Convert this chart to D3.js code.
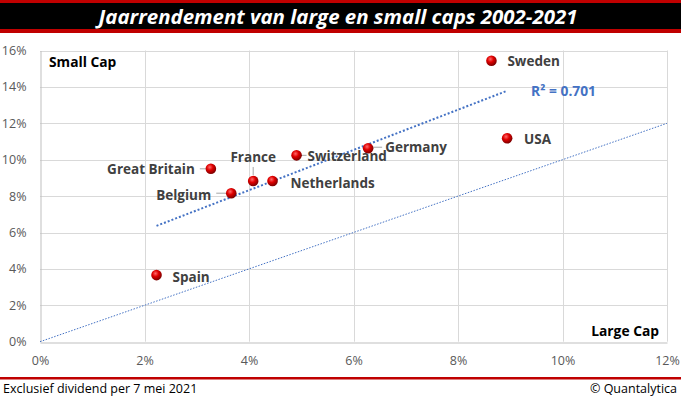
<!DOCTYPE html>
<html>
<head>
<meta charset="utf-8">
<script src="https://cdn.jsdelivr.net/npm/d3@7"></script>
<style>
  body { margin: 0; background: #fff; }
  svg { display: block; font-family: "Open Sans", sans-serif; }
</style>
</head>
<body>
<svg id="chart"></svg>
<script>
"use strict"

// data (large cap return, small cap return)
let countries = ["Great Britain", "Belgium", "France", "Netherlands", "Switzerland", "Germany", "Sweden", "USA", "Spain"]
let largeCap = [0.0327, 0.0366, 0.0408, 0.0445, 0.0491, 0.0628, 0.0864, 0.0894, 0.0223]
let smallCap = [0.0950, 0.0816, 0.0883, 0.0883, 0.1024, 0.1063, 0.1544, 0.1118, 0.0366]
let xTicks = [0, 0.02, 0.04, 0.06, 0.08, 0.10, 0.12]
let yTicks = [0, 0.02, 0.04, 0.06, 0.08, 0.10, 0.12, 0.14, 0.16]
let rSquaredLabel = "R² = 0.701"

// label placement (layout only)
let labelPos = {
  "Great Britain": {dx: -16, dy: 0, anchor: "end", lead: [-11, 0, -5, 0]},
  "Belgium": {dx: -20, dy: 2, anchor: "end", lead: [-15, 0, -5, 0]},
  "France": {dx: 0, dy: -24, anchor: "middle", lead: [0, -14, 0, -6]},
  "Netherlands": {dx: 18, dy: 2, anchor: "start"},
  "Switzerland": {dx: 11, dy: 1, anchor: "start", lead: [4, 0, 10, 0]},
  "Germany": {dx: 17, dy: -1, anchor: "start", lead: [5, -1, 14, -1]},
  "Sweden": {dx: 16, dy: 1, anchor: "start"},
  "USA": {dx: 17, dy: 1, anchor: "start"},
  "Spain": {dx: 16, dy: 2, anchor: "start"}
}

let width = 681, height = 399
let svg = d3.select("#chart").attr("width", width).attr("height", height)

let x = d3.scaleLinear().domain([0, 0.12]).range([40, 667])
let y = d3.scaleLinear().domain([0, 0.16]).range([341.7, 50.5])
let pct = d3.format(".0%")

/* title bar */
svg.append("rect").attr("x", 0).attr("y", 0).attr("width", width).attr("height", 33).attr("fill", "#c00000")
svg.append("rect").attr("x", 0).attr("y", 3).attr("width", width).attr("height", 26).attr("fill", "#000")
let title = svg.append("text")
  .attr("x", 338).attr("y", 24)
  .attr("text-anchor", "middle")
  .attr("fill", "#fff")
  .attr("font-weight", "bold")
  .attr("font-style", "italic")
  .attr("font-size", 20)
  .text("Jaarrendement van large en small caps 2002-2021")
let tw = title.node().getComputedTextLength()
title.attr("font-size", 20 * 479 / tw)

/* gridlines */
let grid = svg.append("g").attr("stroke", "#d9d9d9").attr("stroke-width", 1)
grid.selectAll(".gx").data(xTicks.slice(1)).enter().append("line")
  .attr("x1", d => Math.round(x(d)) + 0.5).attr("x2", d => Math.round(x(d)) + 0.5)
  .attr("y1", y(0.16)).attr("y2", y(0))
grid.selectAll(".gy").data(yTicks.slice(1)).enter().append("line")
  .attr("x1", x(0)).attr("x2", x(0.12))
  .attr("y1", d => Math.round(y(d)) + 0.5).attr("y2", d => Math.round(y(d)) + 0.5)

/* axes */
let xAxis = svg.append("g")
  .attr("transform", "translate(0," + (Math.round(y(0)) + 0.5) + ")")
  .call(d3.axisBottom(x).tickValues(xTicks).tickFormat(pct).tickSize(0).tickPadding(14))
xAxis.select(".domain").attr("stroke", "#bfbfbf")
let yAxis = svg.append("g")
  .attr("transform", "translate(" + (Math.round(x(0)) + 0.5) + ",0)")
  .call(d3.axisLeft(y).tickValues(yTicks).tickFormat(pct).tickSize(0).tickPadding(14))
yAxis.select(".domain").attr("stroke", "#bfbfbf")
svg.selectAll(".tick text")
  .attr("fill", "#595959")
  .attr("font-size", 12.5)
  .attr("font-family", "Open Sans, sans-serif")

/* axis titles */
svg.append("text").attr("x", 49).attr("y", 67)
  .attr("font-weight", "bold").attr("font-size", 13.8).attr("fill", "#000")
  .text("Small Cap")
svg.append("text").attr("x", 659).attr("y", 336)
  .attr("text-anchor", "end")
  .attr("font-weight", "bold").attr("font-size", 13.8).attr("fill", "#000")
  .text("Large Cap")

/* y = x reference line */
svg.append("line")
  .attr("x1", x(0)).attr("y1", y(0))
  .attr("x2", x(0.12)).attr("y2", y(0.12))
  .attr("stroke", "#4472c4").attr("stroke-width", 1)
  .attr("stroke-dasharray", "1.5 1.5")

/* least squares trendline */
let mx = d3.mean(largeCap), my = d3.mean(smallCap)
let sxy = d3.sum(largeCap, (d, i) => (d - mx) * (smallCap[i] - my))
let sxx = d3.sum(largeCap, d => (d - mx) * (d - mx))
let slope = sxy / sxx
let intercept = my - slope * mx
let x0 = d3.min(largeCap), x1 = d3.max(largeCap)
svg.append("line")
  .attr("x1", x(x0)).attr("y1", y(intercept + slope * x0))
  .attr("x2", x(x1)).attr("y2", y(intercept + slope * x1))
  .attr("stroke", "#4472c4").attr("stroke-width", 2)
  .attr("stroke-dasharray", "2 2")
svg.append("text")
  .attr("x", x(x1) + 24).attr("y", y(intercept + slope * x1) + 5)
  .attr("font-weight", "bold").attr("font-size", 13.8).attr("fill", "#4472c4")
  .text(rSquaredLabel)

/* markers */
let defs = svg.append("defs")
let grad = defs.append("radialGradient").attr("id", "ball")
  .attr("cx", "40%").attr("cy", "35%").attr("r", "65%")
grad.append("stop").attr("offset", "0%").attr("stop-color", "#ff6a6a")
grad.append("stop").attr("offset", "45%").attr("stop-color", "#e00000")
grad.append("stop").attr("offset", "100%").attr("stop-color", "#7a0000")

let pts = countries.map((c, i) => ({name: c, px: x(largeCap[i]), py: y(smallCap[i])}))

/* leader lines */
svg.append("g").selectAll("line")
  .data(pts.filter(d => labelPos[d.name].lead))
  .enter().append("line")
  .attr("x1", d => d.px + labelPos[d.name].lead[0])
  .attr("y1", d => d.py + labelPos[d.name].lead[1])
  .attr("x2", d => d.px + labelPos[d.name].lead[2])
  .attr("y2", d => d.py + labelPos[d.name].lead[3])
  .attr("stroke", "#a6a6a6").attr("stroke-width", 1)

svg.append("g").selectAll("circle")
  .data(pts).enter().append("circle")
  .attr("cx", d => d.px).attr("cy", d => d.py)
  .attr("r", 5.3)
  .attr("fill", "url(#ball)")

svg.append("g").selectAll("text")
  .data(pts).enter().append("text")
  .attr("x", d => d.px + labelPos[d.name].dx)
  .attr("y", d => d.py + labelPos[d.name].dy)
  .attr("dy", "0.35em")
  .attr("text-anchor", d => labelPos[d.name].anchor)
  .attr("font-weight", "bold").attr("font-size", 13.5).attr("fill", "#404040")
  .text(d => d.name)

/* footer */
svg.append("rect").attr("x", 0).attr("y", 377).attr("width", width).attr("height", 2.5).attr("fill", "#c00000")
svg.append("text").attr("x", 3).attr("y", 393)
  .attr("font-size", 12.5).attr("fill", "#000")
  .text("Exclusief dividend per 7 mei 2021")
svg.append("text").attr("x", 677).attr("y", 393)
  .attr("text-anchor", "end")
  .attr("font-size", 12.5).attr("fill", "#000")
  .text("© Quantalytica")
</script>
</body>
</html>
